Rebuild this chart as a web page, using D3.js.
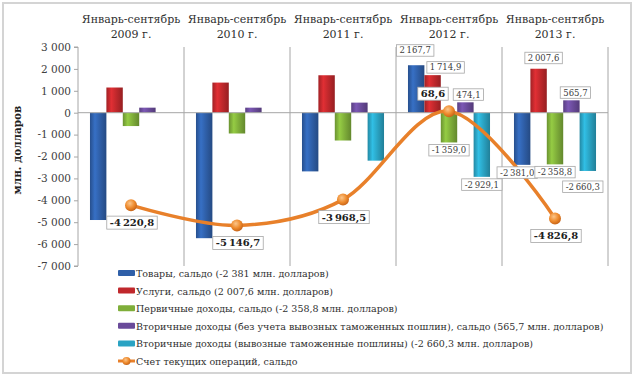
<!DOCTYPE html>
<html><head><meta charset="utf-8">
<script src="https://cdn.jsdelivr.net/npm/d3@7"></script>
<style>
html,body{margin:0;padding:0;background:#fff;}
svg{display:block;}
</style></head>
<body><svg id="c" width="635" height="378"></svg>
<script>
// ---- data ----
const years = ["2009", "2010", "2011", "2012", "2013"];
const categoryLine1 = "Январь-сентябрь";
const categoryLine2 = ["2009 г.", "2010 г.", "2011 г.", "2012 г.", "2013 г."];
const goods      = [-4900, -5730, -2680, 2167.7, -2381.0];
const services   = [1150, 1375, 1710, 1714.9, 2007.6];
const primary    = [-610, -950, -1270, -1359.0, -2358.8];
const secondary1 = [230, 230, 460, 474.1, 565.7];
const secondary2 = [null, null, -2190, -2929.1, -2660.3];
const currentAccount = [-4220.8, -5146.7, -3968.5, 68.6, -4826.8];
const yTicks = [3000, 2000, 1000, 0, -1000, -2000, -3000, -4000, -5000, -6000, -7000];
const seriesNames = [
  "Товары, сальдо (-2 381 млн. долларов)",
  "Услуги, сальдо (2 007,6 млн. долларов)",
  "Первичные доходы, сальдо (-2 358,8 млн. долларов)",
  "Вторичные доходы (без учета вывозных таможенных пошлин), сальдо (565,7 млн. долларов)",
  "Вторичные доходы (вывозные таможенные пошлины) (-2 660,3 млн. долларов)"
];
const lineName = "Счет текущих операций, сальдо";
const yTitle = "млн. долларов";
const labeledYears = ["2012", "2013"];

// ---- style ----
const colors = ["#2f5fa8", "#c0282c", "#7fae3a", "#6a4b9a", "#2aa3c3"];
const lineColor = "#e8802a";
const FONT = "DejaVu Serif";

const svg = d3.select("#c");
const defs = svg.append("defs");
colors.forEach((c, i) => {
  const g = defs.append("linearGradient").attr("id", "g" + i).attr("x1", "0").attr("x2", "1").attr("y1", "0").attr("y2", "0");
  const col = d3.color(c);
  g.append("stop").attr("offset", "0%").attr("stop-color", col.darker(0.5));
  g.append("stop").attr("offset", "30%").attr("stop-color", col.brighter(0.45));
  g.append("stop").attr("offset", "60%").attr("stop-color", col);
  g.append("stop").attr("offset", "100%").attr("stop-color", col.darker(0.7));
});
const rg = defs.append("radialGradient").attr("id", "mk").attr("cx", "40%").attr("cy", "35%").attr("r", "65%");
rg.append("stop").attr("offset", "0%").attr("stop-color", "#fbc58a");
rg.append("stop").attr("offset", "60%").attr("stop-color", "#ee8a2c");
rg.append("stop").attr("offset", "100%").attr("stop-color", "#c8661a");

svg.append("rect").attr("x", 3).attr("y", 3).attr("width", 628).attr("height", 370)
  .attr("fill", "#fff").attr("stroke", "#d4d4d4").attr("stroke-width", 2);

const plot = {left: 78, right: 608, top: 47, bottom: 266};
const x0 = d3.scaleBand().domain(years).range([plot.left, plot.right]).padding(0);
const x1 = d3.scaleBand().domain(d3.range(5)).range([0, x0.bandwidth()]).paddingInner(0).paddingOuter(0.73);
const y = d3.scaleLinear().domain([-7000, 3000]).range([plot.bottom, plot.top]);

const divs = years.map(yr => x0(yr) + x0.bandwidth());
svg.append("g").selectAll("line").data(divs).join("line")
  .attr("x1", d => d).attr("x2", d => d).attr("y1", plot.top).attr("y2", plot.bottom)
  .attr("stroke", "#a6a6a6").attr("stroke-width", 1);

const yAxis = d3.axisLeft(y).tickValues(yTicks).tickSize(4).tickPadding(3)
  .tickFormat(d => (d < 0 ? "-" : "") + d3.format(",")(Math.abs(d)).replace(/,/g, " "));
const ga = svg.append("g").attr("transform", `translate(${plot.left},0)`).call(yAxis);
ga.attr("font-family", FONT).attr("font-size", 10.5);
ga.select(".domain").attr("stroke", "#a6a6a6").attr("d", `M-4,${plot.top}H0V${plot.bottom}H-4`);
ga.selectAll(".tick line").attr("stroke", "#a6a6a6");
ga.selectAll(".tick text").attr("fill", "#404040");

const series = [goods, services, primary, secondary1, secondary2];
const barData = [];
series.forEach((s, si) => s.forEach((v, yi) => { if (v !== null) barData.push({si, yi, v}); }));
svg.append("g").selectAll("rect").data(barData).join("rect")
  .attr("x", d => x0(years[d.yi]) + x1(d.si))
  .attr("width", x1.bandwidth())
  .attr("y", d => y(Math.max(0, d.v)))
  .attr("height", d => Math.abs(y(d.v) - y(0)))
  .attr("fill", d => `url(#g${d.si})`);

svg.append("line").attr("x1", plot.left).attr("x2", plot.right).attr("y1", y(0)).attr("y2", y(0))
  .attr("stroke", "#a6a6a6").attr("stroke-width", 1);

const cat = svg.append("g").selectAll("g").data(years).join("g")
  .attr("transform", d => `translate(${x0(d) + x0.bandwidth() / 2},0)`);
cat.append("text").attr("y", 23).attr("text-anchor", "middle").attr("fill", "#303030")
  .attr("font-family", FONT).attr("font-size", 11).text(categoryLine1);
cat.append("text").attr("y", 38).attr("text-anchor", "middle").attr("fill", "#303030")
  .attr("font-family", FONT).attr("font-size", 11).text((d, i) => categoryLine2[i]);

svg.append("text").attr("transform", "translate(21,150) rotate(-90)").attr("text-anchor", "middle")
  .attr("font-family", FONT).attr("font-size", 10.5).attr("font-weight", "bold").attr("fill", "#202020").text(yTitle);

const pts = currentAccount.map((v, i) => [x0(years[i]) + x0.bandwidth() / 2, y(v)]);
svg.append("path").attr("d", d3.line().curve(d3.curveCardinal.tension(0))(pts))
  .attr("fill", "none").attr("stroke", lineColor).attr("stroke-width", 3.5).attr("stroke-linecap", "round");
svg.append("g").selectAll("circle").data(pts).join("circle")
  .attr("cx", d => d[0]).attr("cy", d => d[1]).attr("r", 6).attr("fill", "url(#mk)");

const fmt = v => {
  const s = d3.format(",.1f")(Math.abs(v)).replace(/,/g, "\u2009").replace(".", ",");
  return (v < 0 ? "-" : "") + s;
};

function labelBox(g, cx, yEdge, text, opts) {
  const t = g.append("text").attr("x", cx).attr("text-anchor", "middle")
    .attr("font-family", FONT).attr("font-size", opts.size).attr("font-weight", opts.bold ? "bold" : "normal")
    .attr("fill", opts.bold ? "#202020" : "#404040").text(text);
  const bb = t.node().getBBox();
  const h = opts.size + 3;
  const w = bb.width + 6;
  const top = opts.above ? yEdge - h : yEdge;
  t.attr("y", top + h / 2 + opts.size * 0.35);
  g.insert("rect", "text").attr("x", cx - w / 2).attr("y", top).attr("width", w).attr("height", h)
    .attr("fill", "#fff").attr("stroke", "#a6a6a6").attr("stroke-width", 0.8);
}

const barNudge = {"3-0": [-1, -7], "3-1": [13, 0], "3-3": [3, 0], "4-0": [-5, 0], "4-1": [5, -3], "4-3": [4, 0], "4-4": [-5, 8]};
barData.filter(d => labeledYears.includes(years[d.yi])).forEach(d => {
  const g = svg.append("g");
  const n = barNudge[d.yi + "-" + d.si] || [0, 0];
  const cx = x0(years[d.yi]) + x1(d.si) + x1.bandwidth() / 2 + n[0];
  const above = d.v >= 0;
  const edge = (above ? y(d.v) - 2 : y(d.v) + 2) + n[1];
  labelBox(g, cx, edge, fmt(d.v), {size: 8.5, bold: false, above});
});

currentAccount.forEach((v, i) => {
  const g = svg.append("g");
  const above = v > 0;
  const cx = pts[i][0] + (above ? -16 : 1);
  const edge = above ? pts[i][1] - 11 : pts[i][1] + 11;
  labelBox(g, cx, edge, fmt(v), {size: 10, bold: true, above});
});

const lg = svg.append("g").attr("transform", "translate(118,273)");
const rowH = 17.6;
seriesNames.forEach((n, i) => {
  const r = lg.append("g").attr("transform", `translate(0,${i * rowH})`);
  r.append("rect").attr("x", 0).attr("y", -3).attr("width", 17).attr("height", 6).attr("fill", colors[i]).attr("rx", 1);
  r.append("text").attr("x", 18).attr("y", 4).attr("font-family", FONT).attr("font-size", 9.5).attr("fill", "#303030").text(n);
});
const lr = lg.append("g").attr("transform", `translate(0,${5 * rowH})`);
lr.append("line").attr("x1", 0).attr("x2", 17).attr("stroke", lineColor).attr("stroke-width", 3);
lr.append("circle").attr("cx", 8.5).attr("r", 4).attr("fill", "url(#mk)");
lr.append("text").attr("x", 18).attr("y", 4).attr("font-family", FONT).attr("font-size", 9.5).attr("fill", "#303030").text(lineName);
</script></body></html>
